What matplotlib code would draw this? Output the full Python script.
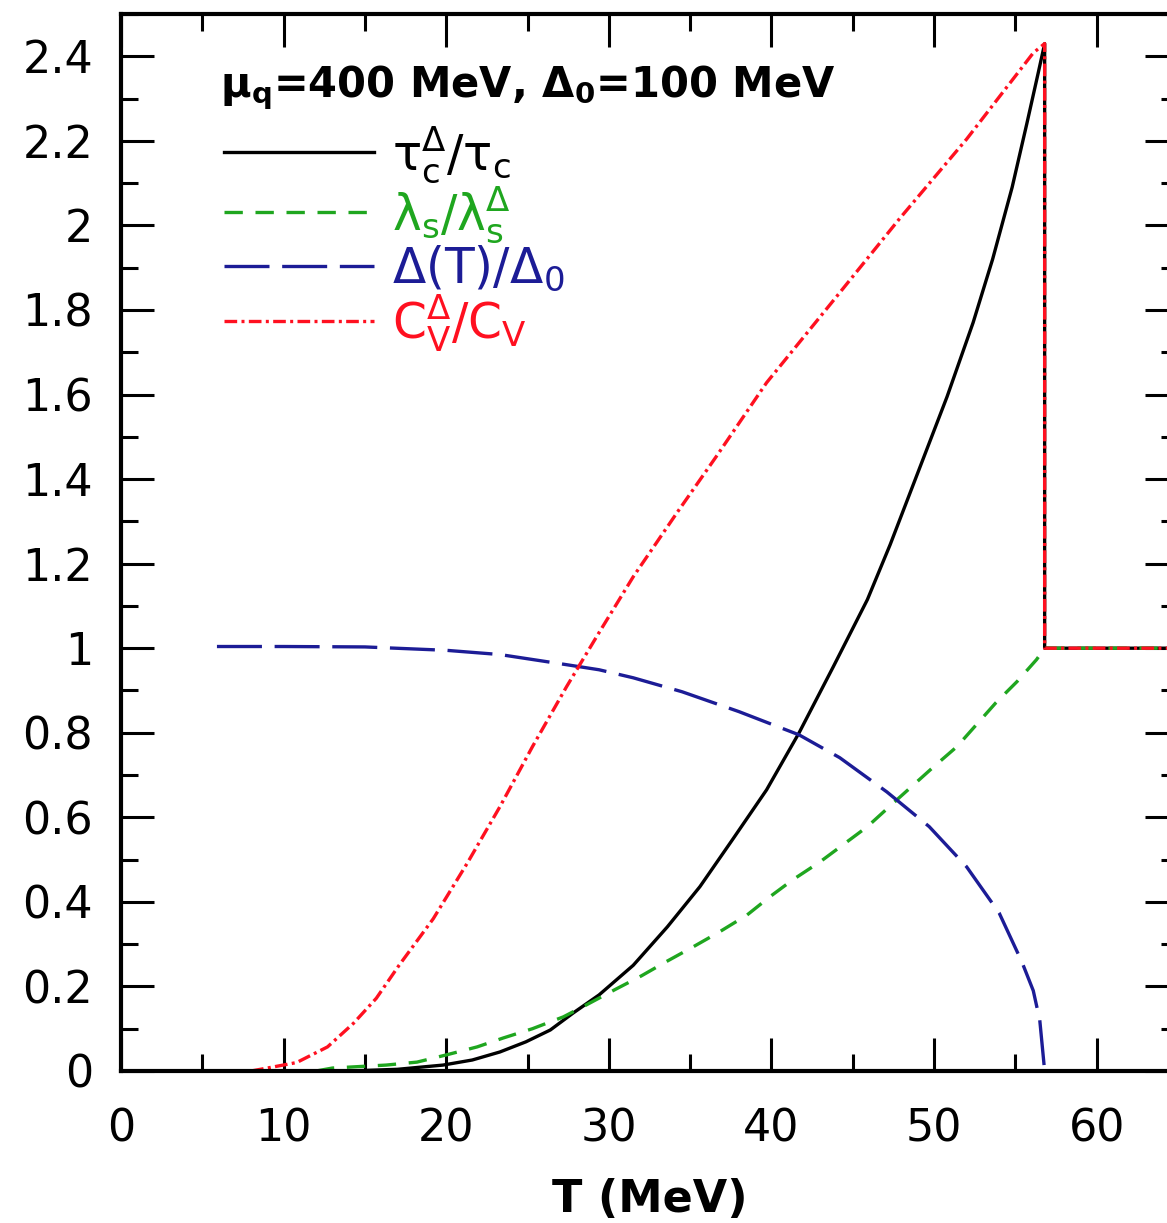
import numpy as np
import matplotlib
matplotlib.use("Agg")
import matplotlib.pyplot as plt
from matplotlib.ticker import MultipleLocator

# values (T in MeV)
T_gap = [5.9, 10, 15, 20, 23.3, 27.4, 29.4, 31.5, 34.5, 38.0, 41.7, 44.2, 47.1,
         49.7, 52.0, 54.0, 55.4, 56.1, 56.5, 56.8]
gap = [1.004, 1.004, 1.003, 0.995, 0.985, 0.961, 0.949, 0.930, 0.897, 0.850, 0.795,
       0.741, 0.660, 0.578, 0.483, 0.374, 0.258, 0.19, 0.12, 0.0]

T_cv = [8.0, 9.0, 10.8, 12.7, 14.3, 15.7, 17.1, 19.2, 21.3, 23.3, 25.3, 27.4, 29.4,
        31.5, 34.2, 36.6, 39.7, 43.8, 47.9, 52.0, 56.1, 56.8, 56.8, 65.0]
cv = [0.0, 0.007, 0.02, 0.057, 0.113, 0.172, 0.25, 0.36, 0.492, 0.625, 0.767, 0.909,
      1.037, 1.169, 1.321, 1.453, 1.628, 1.822, 2.017, 2.204, 2.408, 2.43, 1.0, 1.0]

T_tau = [14, 17, 19.8, 21.6, 23.3, 24.9, 26.4, 27.8, 29.4, 31.5, 33.6, 35.6, 37.6,
         39.7, 41.7, 43.8, 45.9, 47.3, 49.1, 50.8, 52.4, 53.6, 54.8, 55.7, 56.4,
         56.8, 56.8, 65.0]
tau = [0.0, 0.004, 0.014, 0.026, 0.045, 0.069, 0.097, 0.137, 0.18, 0.25, 0.341, 0.436,
       0.547, 0.665, 0.80, 0.956, 1.115, 1.245, 1.425, 1.595, 1.77, 1.92, 2.09, 2.24,
       2.36, 2.43, 1.0, 1.0]

T_lam = [12, 13.0, 16.3, 18.2, 20.0, 21.9, 23.5, 25.3, 27.2, 28.6, 30.4, 32.0, 33.5,
         35.2, 36.8, 38.5, 39.9, 41.3, 43.0, 44.4, 45.9, 47.7, 49.9, 51.4, 52.6, 53.8,
         55.1, 56.3, 56.8, 65.0]
lam = [0.0, 0.007, 0.014, 0.021, 0.038, 0.057, 0.078, 0.10, 0.128, 0.156, 0.193, 0.225,
       0.258, 0.294, 0.329, 0.369, 0.412, 0.452, 0.495, 0.535, 0.578, 0.641, 0.717, 0.767,
       0.819, 0.871, 0.921, 0.973, 1.0, 1.0]

labels = [r"$\tau_c^\Delta/\tau_c$", r"$\lambda_s/\lambda_s^\Delta$",
          r"$\Delta(T)/\Delta_0$", r"$C_V^\Delta/C_V$"]
title = r"$\mu_q$=400 MeV, $\Delta_0$=100 MeV"

plt.rcParams["font.family"] = ["DejaVu Sans"]
plt.rcParams["mathtext.fontset"] = "dejavusans"
plt.rcParams["mathtext.default"] = "regular"

W, H = 1167, 1223
fig = plt.figure(figsize=(W / 100, H / 100), dpi=100)
ax = fig.add_axes([121 / W, 1 - 1071 / H, 1057 / W, 1057 / H])

lw = 2.4
ax.plot(T_tau, tau, color="black", lw=lw, label=labels[0])
ax.plot(T_lam, lam, color="#1fa61f", lw=lw, dashes=(5.5, 3.8), label=labels[1])
ax.plot(T_gap, gap, color="#1c1c96", lw=lw, dashes=(13.5, 3.8, 13.5, 3.8), label=labels[2])
ax.plot(T_cv, cv, color="#ff1020", lw=lw, dashes=(3.8, 1.3, 0.9, 1.3), label=labels[3])

ax.set_xlim(0, 65)
ax.set_ylim(0, 2.5)
ax.xaxis.set_major_locator(MultipleLocator(10))
ax.xaxis.set_minor_locator(MultipleLocator(5))
ax.yaxis.set_major_locator(MultipleLocator(0.2))
ax.yaxis.set_minor_locator(MultipleLocator(0.1))
ax.yaxis.set_major_formatter(plt.FuncFormatter(lambda v, p: f"{v:g}"))

for s in ax.spines.values():
    s.set_linewidth(3)
ax.tick_params(which="both", direction="in", top=True, right=True, width=2.2)
ax.tick_params(which="major", length=24, labelsize=32)
ax.tick_params(which="minor", length=12)
ax.tick_params(axis="y", which="major", pad=20)
ax.tick_params(axis="x", which="major", pad=26)

ax.set_xlabel("T (MeV)", fontsize=32, fontweight="bold", labelpad=20)

ax.text(0.094, 0.921, title, transform=ax.transAxes, fontsize=30, fontweight="bold",
        va="baseline", ha="left")

leg = ax.legend(loc="upper left", bbox_to_anchor=(0.074, 0.919), frameon=False,
                fontsize=35, handlelength=3.1, handletextpad=0.36, labelspacing=-0.02,
                borderpad=0, labelcolor="linecolor")

fig.savefig("out.png", dpi=100)
